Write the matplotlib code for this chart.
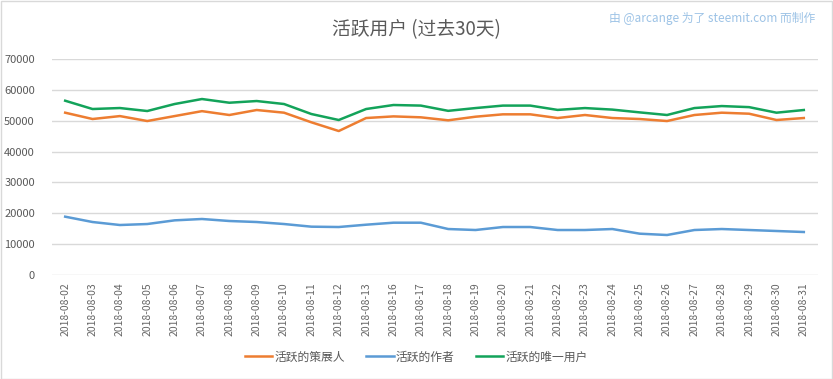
import matplotlib
matplotlib.use("Agg")
import matplotlib.pyplot as plt
from matplotlib.patches import Rectangle

plt.rcParams['font.family'] = ['Noto Sans CJK SC', 'DejaVu Sans']

# dates shown (08-14 and 08-15 are missing in the source)
dates = ["2018-08-02", "2018-08-03", "2018-08-04", "2018-08-05", "2018-08-06",
         "2018-08-07", "2018-08-08", "2018-08-09", "2018-08-10", "2018-08-11",
         "2018-08-12", "2018-08-13", "2018-08-16", "2018-08-17", "2018-08-18",
         "2018-08-19", "2018-08-20", "2018-08-21", "2018-08-22", "2018-08-23",
         "2018-08-24", "2018-08-25", "2018-08-26", "2018-08-27", "2018-08-28",
         "2018-08-29", "2018-08-30", "2018-08-31"]

curators = [52600, 50550, 51500, 49900, 51500, 53100, 51850, 53470, 52600, 49480,
            46660, 50870, 51400, 51100, 50130, 51300, 52070, 52070, 50870, 51850,
            50870, 50550, 49900, 51850, 52600, 52270, 50230, 50870]
authors = [18900, 17170, 16200, 16520, 17710, 18150, 17500, 17170, 16520, 15660,
           15550, 16300, 16950, 16950, 14900, 14580, 15550, 15550, 14580, 14580,
           14900, 13390, 12960, 14580, 14900, 14580, 14260, 13930]
unique_users = [56480, 53790, 54110, 53140, 55410, 57030, 55830, 56380, 55410, 52170,
                50230, 53790, 55090, 54900, 53200, 54100, 54900, 54900, 53500, 54100,
                53600, 52700, 51850, 54100, 54750, 54400, 52600, 53470]

series_names = ["活跃的策展人", "活跃的作者", "活跃的唯一用户"]
colors = ["#ED7D31", "#5B9BD5", "#13A35A"]

fig = plt.figure(figsize=(8.33, 3.79), dpi=100)
ax = fig.add_axes([51.5 / 833, 1 - 275 / 379, (817.5 - 51.5) / 833, 216 / 379])

x = list(range(len(dates)))
for vals, name, c in zip([curators, authors, unique_users], series_names, colors):
    ax.plot(x, vals, color=c, lw=1.8, label=name, solid_joinstyle="round")

ax.set_xlim(-0.5, len(dates) - 0.5)
ax.set_ylim(0, 70000)
ax.set_yticks(range(0, 70001, 10000))
ax.set_xticks(x)
ax.set_xticklabels(dates, rotation=90, fontsize=7.5, color="#666666")
ax.tick_params(axis="y", labelsize=8, labelcolor="#595959", length=0, pad=12)
ax.tick_params(axis="x", length=0, pad=5)
ax.grid(axis="y", color="#D9D9D9", lw=1)
ax.set_axisbelow(True)
for s in ax.spines.values():
    s.set_visible(False)

fig.text(0.5, 1 - 30 / 379, "活跃用户 (过去30天)", ha="center", va="center",
         fontsize=13.5, color="#595959")
fig.text(815 / 833, 1 - 18 / 379, "由 @arcange 为了 steemit.com 而制作", ha="right",
         va="center", fontsize=8.5, color="#9DC3E6")

fig.legend(loc="center", bbox_to_anchor=(0.5, 1 - 357 / 379), ncol=3, frameon=False,
           fontsize=8.5, handlelength=2.3, handletextpad=0.2, columnspacing=1.8,
           labelcolor="#595959")

fig.patches.append(Rectangle((0.5 / 833, 0.5 / 379), 1 - 1.5 / 833, 1 - 1.5 / 379,
                             transform=fig.transFigure, fill=False,
                             edgecolor="#D9D9D9", lw=1))

fig.savefig("out.png", dpi=100)
